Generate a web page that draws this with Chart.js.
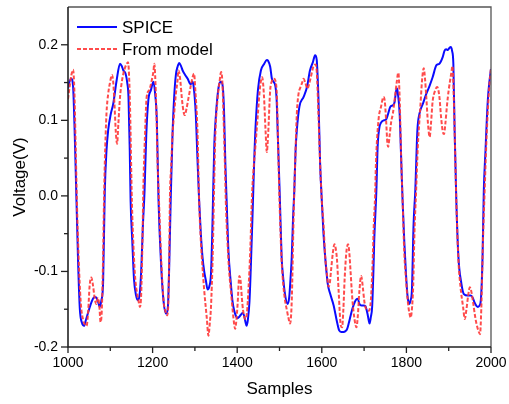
<!DOCTYPE html>
<html>
<head>
<meta charset="utf-8">
<script src="https://cdn.jsdelivr.net/npm/chart.js@4.4.1/dist/chart.umd.min.js"></script>
<style>
html, body { margin: 0; padding: 0; background: #fff; }
</style>
</head>
<body>
<canvas id="chart" width="509" height="404"></canvas>
<script>
'use strict'

// SPICE reference curve (sample index, volts)
var spiceX = [1000,1004,1008,1012,1016,1020,1024,1028,1033,1038,1042,1050,1056,1062,1066,1071,1075,1079,1083,1087,
  1091,1095,1101,1107,1115,1123,1127,1131,1136,1140,1143,1146,1148,1152,1156,1161,1165,1169,1173,1177,
  1181,1185,1190,1196,1202,1206,1210,1214,1220,1226,1232,1236,1239,1243,1247,1251,1255,1259,1263,1267,
  1271,1277,1283,1288,1291,1294,1297,1302,1306,1310,1314,1318,1322,1326,1330,1334,1338,1341,1343,1346,
  1350,1354,1358,1362,1366,1369,1372,1375,1379,1385,1389,1393,1397,1401,1405,1409,1413,1416,1420,1422,
  1425,1429,1433,1436,1438,1441,1443,1449,1456,1464,1470,1473,1478,1482,1486,1490,1493,1496,1501,1505,
  1509,1513,1519,1523,1526,1529,1532,1535,1538,1541,1547,1557,1565,1572,1579,1584,1588,1590,1592,1596,
  1600,1604,1608,1614,1620,1628,1636,1641,1646,1651,1656,1660,1664,1667,1671,1675,1680,1685,1689,1694,
  1699,1703,1708,1711,1713,1716,1719,1722,1724,1729,1732,1736,1739,1746,1752,1756,1762,1768,1772,1776,
  1778,1780,1784,1788,1791,1795,1799,1803,1807,1810,1813,1817,1821,1826,1831,1839,1847,1855,1862,1871,
  1878,1886,1890,1894,1898,1902,1905,1908,1911,1914,1918,1923,1930,1936,1945,1952,1957,1961,1966,1969,
  1973,1976,1980,1983,1987,1990,1993,1996,2000]
var spiceY = [0.142,0.152,0.155,0.145,0.080,-0.006,-0.090,-0.150,-0.168,-0.172,-0.165,-0.150,-0.140,-0.134,-0.134,-0.140,-0.147,-0.138,-0.115,0.007,
  0.060,0.087,0.108,0.122,0.153,0.175,0.172,0.166,0.162,0.150,0.131,0.060,-0.006,-0.060,-0.110,-0.132,-0.138,-0.132,-0.100,-0.040,
  0.007,0.080,0.127,0.140,0.151,0.135,0.100,-0.006,-0.090,-0.140,-0.156,-0.148,-0.100,0.000,0.080,0.131,0.160,0.171,0.176,0.172,
  0.166,0.160,0.155,0.149,0.148,0.151,0.145,0.109,0.050,-0.006,-0.050,-0.081,-0.100,-0.112,-0.124,-0.120,-0.103,-0.050,0.000,0.070,
  0.109,0.135,0.149,0.151,0.144,0.110,0.043,-0.006,-0.070,-0.116,-0.140,-0.152,-0.159,-0.162,-0.160,-0.157,-0.155,-0.158,-0.168,-0.172,
  -0.165,-0.140,-0.081,-0.030,0.007,0.060,0.087,0.140,0.166,0.175,0.180,0.179,0.171,0.155,0.151,0.146,0.130,0.080,-0.006,-0.081,
  -0.110,-0.130,-0.143,-0.134,-0.110,-0.081,-0.030,0.007,0.060,0.087,0.118,0.131,0.144,0.166,0.177,0.186,0.180,0.160,0.131,0.043,
  -0.006,-0.050,-0.081,-0.116,-0.130,-0.145,-0.167,-0.178,-0.180,-0.180,-0.179,-0.176,-0.168,-0.161,-0.152,-0.145,-0.138,-0.136,-0.143,-0.145,
  -0.145,-0.146,-0.156,-0.165,-0.169,-0.160,-0.147,-0.100,-0.059,0.007,0.065,0.090,0.096,0.100,0.101,0.107,0.118,0.120,0.124,0.140,
  0.142,0.135,0.109,0.043,-0.006,-0.060,-0.103,-0.134,-0.143,-0.138,-0.125,-0.037,0.007,0.087,0.109,0.122,0.135,0.146,0.157,0.173,
  0.175,0.184,0.192,0.194,0.193,0.196,0.197,0.192,0.175,0.087,-0.006,-0.081,-0.116,-0.130,-0.132,-0.132,-0.135,-0.141,-0.146,-0.147,
  -0.145,-0.138,-0.081,0.007,0.060,0.100,0.131,0.150,0.168]

// model output curve
var modelX = [1000,1004,1008,1012,1015,1018,1021,1025,1030,1036,1040,1044,1048,1051,1055,1059,1063,1067,1071,1074,
  1077,1080,1083,1085,1087,1091,1095,1099,1104,1107,1110,1113,1116,1119,1123,1127,1131,1135,1139,1142,
  1145,1147,1151,1155,1159,1163,1167,1170,1173,1176,1178,1182,1186,1192,1198,1202,1204,1206,1209,1212,
  1215,1220,1226,1230,1234,1237,1239,1241,1244,1247,1251,1255,1259,1261,1263,1266,1269,1273,1276,1280,
  1285,1290,1295,1298,1301,1306,1310,1314,1318,1322,1328,1332,1335,1338,1342,1345,1348,1354,1358,1362,
  1365,1368,1371,1373,1377,1381,1385,1391,1395,1398,1401,1405,1408,1411,1414,1419,1423,1427,1431,1435,
  1438,1443,1449,1454,1459,1463,1467,1470,1473,1478,1482,1487,1490,1494,1497,1500,1505,1509,1513,1517,
  1521,1525,1529,1533,1535,1537,1541,1545,1549,1553,1557,1561,1566,1570,1574,1580,1585,1588,1592,1596,
  1600,1604,1608,1612,1616,1619,1622,1626,1630,1633,1636,1640,1645,1648,1651,1654,1658,1662,1665,1668,
  1672,1677,1682,1685,1689,1693,1697,1700,1703,1707,1711,1716,1720,1723,1726,1728,1734,1740,1746,1749,
  1752,1755,1757,1760,1764,1768,1773,1777,1781,1784,1788,1791,1795,1799,1803,1807,1810,1813,1816,1819,
  1823,1827,1833,1837,1841,1844,1847,1851,1855,1858,1862,1867,1873,1878,1882,1886,1889,1892,1896,1900,
  1906,1909,1912,1914,1918,1923,1928,1934,1938,1942,1946,1950,1954,1958,1962,1966,1970,1974,1977,1981,
  1985,1989,1993,1996,2000]
var modelY = [0.128,0.145,0.160,0.167,0.140,0.070,-0.006,-0.080,-0.140,-0.165,-0.170,-0.172,-0.150,-0.120,-0.108,-0.118,-0.135,-0.143,-0.135,-0.145,
  -0.167,-0.150,-0.080,-0.010,0.043,0.109,0.135,0.149,0.160,0.150,0.120,0.085,0.069,0.095,0.131,0.150,0.162,0.170,0.175,0.177,
  0.150,0.109,-0.006,-0.070,-0.110,-0.128,-0.140,-0.147,-0.130,-0.060,0.007,0.080,0.131,0.140,0.153,0.165,0.175,0.160,0.110,0.040,
  -0.006,-0.080,-0.140,-0.152,-0.158,-0.145,-0.090,0.000,0.040,0.080,0.109,0.135,0.153,0.166,0.163,0.150,0.130,0.112,0.107,0.115,
  0.130,0.145,0.158,0.162,0.140,0.087,-0.006,-0.059,-0.095,-0.125,-0.161,-0.185,-0.170,-0.147,-0.081,0.000,0.075,0.131,0.150,0.164,
  0.150,0.100,0.040,-0.006,-0.060,-0.100,-0.125,-0.161,-0.176,-0.165,-0.143,-0.106,-0.112,-0.135,-0.152,-0.163,-0.155,-0.120,-0.070,0.000,
  0.030,0.065,0.109,0.144,0.157,0.135,0.087,0.058,0.080,0.140,0.152,0.155,0.153,0.130,0.060,-0.006,-0.085,-0.118,-0.138,-0.150,
  -0.161,-0.169,-0.138,-0.037,0.007,0.043,0.109,0.135,0.143,0.149,0.155,0.150,0.142,0.148,0.157,0.171,0.174,0.165,0.109,0.043,
  -0.006,-0.037,-0.080,-0.103,-0.120,-0.115,-0.098,-0.076,-0.064,-0.070,-0.085,-0.128,-0.172,-0.174,-0.150,-0.110,-0.075,-0.064,-0.075,-0.100,
  -0.135,-0.162,-0.174,-0.160,-0.125,-0.106,-0.121,-0.137,-0.147,-0.151,-0.152,-0.138,-0.090,-0.037,0.000,0.043,0.100,0.118,0.131,0.125,
  0.100,0.070,0.065,0.078,0.098,0.109,0.131,0.150,0.163,0.130,0.043,-0.006,-0.075,-0.110,-0.138,-0.155,-0.161,-0.150,-0.120,-0.050,
  0.007,0.065,0.118,0.153,0.169,0.155,0.131,0.096,0.078,0.095,0.125,0.138,0.144,0.131,0.104,0.085,0.082,0.095,0.120,0.140,
  0.162,0.172,0.130,0.087,-0.006,-0.085,-0.121,-0.147,-0.163,-0.150,-0.132,-0.121,-0.128,-0.142,-0.158,-0.170,-0.178,-0.183,-0.150,-0.060,
  0.007,0.070,0.118,0.145,0.170]

var seriesLabels = ['SPICE', 'From model']
var xRange = [1000, 2000]
var yRange = [-0.2, 0.25]

function toPoints(xs, ys) {
    var pts = []
    for (var i = 0; i < xs.length; i++) {
        pts.push({x: xs[i], y: ys[i]})
    }
    return pts
}

function isMajorX(v) { return Math.round(v) % 200 === 0 }
function isMajorY(v) { return Math.abs(Math.round(v * 10) - v * 10) < 1e-6 }

Chart.defaults.font.family = 'Arial, "Liberation Sans", sans-serif'
Chart.defaults.color = '#000'

// frame, outward tick marks and an in-plot legend
var framePlugin = {
    id: 'frame',
    afterDatasetsDraw: function(chart) {
        var ctx = chart.ctx
        var a = chart.chartArea
        var xs = chart.scales.x, ys = chart.scales.y
        ctx.save()
        // top + right, lighter
        ctx.strokeStyle = '#555'
        ctx.lineWidth = 1.3
        ctx.beginPath()
        ctx.moveTo(a.left, a.top); ctx.lineTo(a.right, a.top); ctx.lineTo(a.right, a.bottom)
        ctx.stroke()
        // left + bottom axes
        ctx.strokeStyle = '#222'
        ctx.lineWidth = 1.6
        ctx.beginPath()
        ctx.moveTo(a.left, a.top); ctx.lineTo(a.left, a.bottom); ctx.lineTo(a.right, a.bottom)
        ctx.stroke()

        ctx.lineWidth = 1.3
        xs.ticks.forEach(function(t) {
            var px = xs.getPixelForValue(t.value)
            var len = isMajorX(t.value) ? 6 : 4
            ctx.beginPath(); ctx.moveTo(px, a.bottom); ctx.lineTo(px, a.bottom + len); ctx.stroke()
        })
        ys.ticks.forEach(function(t) {
            if (t.value > yRange[1] - 1e-6) return
            var py = ys.getPixelForValue(t.value)
            var len = isMajorY(t.value) ? 7 : 4
            ctx.beginPath(); ctx.moveTo(a.left, py); ctx.lineTo(a.left - len, py); ctx.stroke()
        })

        // legend
        ctx.font = '17px Arial, "Liberation Sans", sans-serif'
        ctx.textBaseline = 'middle'
        ctx.fillStyle = '#000'
        chart.data.datasets.forEach(function(ds, i) {
            var y = 27 + i * 22
            ctx.strokeStyle = ds.borderColor
            ctx.lineWidth = ds.borderWidth
            ctx.setLineDash(ds.borderDash || [])
            ctx.beginPath(); ctx.moveTo(77, y); ctx.lineTo(117, y); ctx.stroke()
            ctx.setLineDash([])
            ctx.fillText(ds.label, 122, y + 1)
        })
        ctx.restore()
    }
}

new Chart(document.getElementById('chart'), {
    type: 'line',
    data: {
        datasets: [{
            label: seriesLabels[0],
            data: toPoints(spiceX, spiceY),
            borderColor: '#0a0aff',
            borderWidth: 2,
            pointRadius: 0,
            cubicInterpolationMode: 'monotone',
            order: 1
        }, {
            label: seriesLabels[1],
            data: toPoints(modelX, modelY),
            borderColor: 'rgba(255,55,55,0.9)',
            borderWidth: 2,
            borderDash: [4, 2],
            pointRadius: 0,
            cubicInterpolationMode: 'monotone',
            order: 0
        }]
    },
    options: {
        responsive: false,
        animation: false,
        layout: {padding: {top: 7, right: 18, left: 0, bottom: 0}},
        plugins: {legend: {display: false}, tooltip: {enabled: false}},
        scales: {
            x: {
                type: 'linear',
                min: xRange[0], max: xRange[1],
                grid: {display: false, drawTicks: false},
                border: {display: false},
                ticks: {
                    stepSize: 100, padding: 8, maxRotation: 0, autoSkip: false,
                    font: {size: 14},
                    callback: function(v) { return isMajorX(v) ? String(v) : '' }
                },
                title: {display: true, text: 'Samples', font: {size: 17}, padding: {top: 0, bottom: 4}},
                afterFit: function(s) { s.height = 57; s.paddingLeft = 0; s.paddingRight = 0 }
            },
            y: {
                min: yRange[0], max: yRange[1],
                grid: {display: false, drawTicks: false},
                border: {display: false},
                ticks: {
                    stepSize: 0.05, padding: 10, autoSkip: false,
                    font: {size: 14},
                    callback: function(v) {
                        if (!isMajorY(v) || v > 0.2 + 1e-6) return ''
                        if (Math.abs(v) < 1e-9) return '0.0'
                        return v.toFixed(1)
                    }
                },
                title: {display: true, text: 'Voltage(V)', font: {size: 17}, padding: {top: 10, bottom: 0}},
                afterFit: function(s) { s.width = 68; s.paddingTop = 0; s.paddingBottom = 0 }
            }
        }
    },
    plugins: [framePlugin]
})
</script>
</body>
</html>
